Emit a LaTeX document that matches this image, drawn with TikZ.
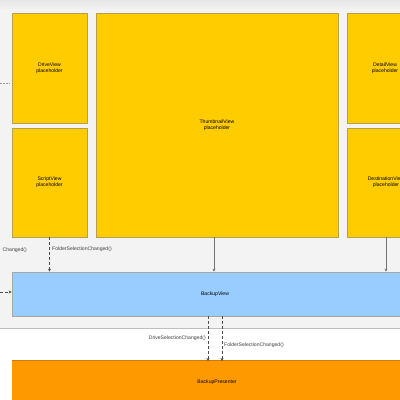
\documentclass[tikz,border=0pt]{standalone}
\usepackage{fontspec}
\setmainfont{Liberation Sans}
\usetikzlibrary{arrows.meta}
\definecolor{ybox}{HTML}{FFCC00}
\definecolor{yedge}{HTML}{B8A04A}
\definecolor{bbox}{HTML}{99CCFF}
\definecolor{obox}{HTML}{FF9900}
\definecolor{panel}{HTML}{F3F3F3}
\definecolor{band}{HTML}{E6E6E6}
\tikzset{
  txt/.style={font=\fontsize{5.1}{5.8}\selectfont},
  yview/.style={draw=yedge, line width=0.8pt, fill=ybox, align=center, txt, inner sep=0pt},
  bview/.style={draw=black!35, line width=0.8pt, fill=bbox, inner sep=0pt},
  oview/.style={draw=none, fill=obox, inner sep=0pt},
  lbl/.style={txt, text=black!75, inner sep=1pt},
  dashedarrow/.style={draw=black!70, line width=0.7pt, dash pattern=on 3pt off 2pt, -{Stealth[length=3pt,width=3pt]}},
  solidarrow/.style={draw=black!55, line width=0.6pt, -{Stealth[length=3pt,width=3pt]}}
}
\begin{document}
\begin{tikzpicture}[x=1pt,y=-1pt]
\useasboundingbox (0,0) rectangle (400,400);
\clip (0,0) rectangle (400,400);
% backgrounds
\fill[white] (0,0) rectangle (400,400);
\fill[panel] (0,0) rectangle (400,328);
\shade[top color=band, bottom color=panel] (0,0) rectangle (400,10);
\draw[black!25, line width=0.8pt] (0,328) -- (400,328);
% views
\node[yview, minimum width=75pt, minimum height=110pt] (drive) at (49.5,68) {DriveView\\placeholder};
\node[yview, minimum width=75pt, minimum height=109pt] (script) at (49.5,182.5) {ScriptView\\placeholder};
\node[yview, minimum width=242pt, minimum height=224pt] (thumb) at (217,125) {ThumbnailView\\placeholder};
\node[yview, minimum width=76pt, minimum height=110pt] (detail) at (385,68) {DetailView\\placeholder};
\node[yview, minimum width=76pt, minimum height=109pt] (dest) at (385,182.5) {};
\node[txt, align=center] (destlbl) at (386,182.5) {DestinationView\\placeholder};
\node[bview, minimum width=400pt, minimum height=44pt] (bview) at (212,294) {};
\node[txt] (bviewlbl) at (215,294) {BackupView};
\fill[obox!80!black] (12,359.5) rectangle (412,361);
\node[oview, minimum width=400pt, minimum height=40pt, anchor=north west] (pres) at (12,361) {};
\node[txt] (preslbl) at (217,382) {BackupPresenter};
% fragments at left edge
\coordinate (lfrag0) at (0,83);
\coordinate (lfrag1) at (10,83);
\draw[black!40, line width=1pt, dash pattern=on 2pt off 1pt] (lfrag0) -- (lfrag1);
\coordinate (lin) at (0,292);
\draw[dashedarrow] (lin) -- (bview.west |- lin);
\node[lbl, anchor=east] (chg) at (28,250) {Changed()};
% connectors
\draw[dashedarrow] (script.south) -- (bview.north -| script.south);
\node[lbl, anchor=west] (fsc1) at (51,249) {FolderSelectionChanged()};
\draw[solidarrow] (thumb.south -| 214,0) -- (bview.north -| 214,0);
\draw[solidarrow] (dest.south -| 386,0) -- (bview.north -| 386,0);
\coordinate (b1) at (208,0);
\coordinate (b2) at (222,0);
\draw[dashedarrow] (bview.south -| b1) -- (pres.north -| b1);
\draw[dashedarrow] (bview.south -| b2) -- (pres.north -| b2);
\node[lbl, anchor=east] (dsc) at (207,338) {DriveSelectionChanged()};
\node[lbl, anchor=west] (fsc2) at (223,345) {FolderSelectionChanged()};
\end{tikzpicture}
\end{document}
